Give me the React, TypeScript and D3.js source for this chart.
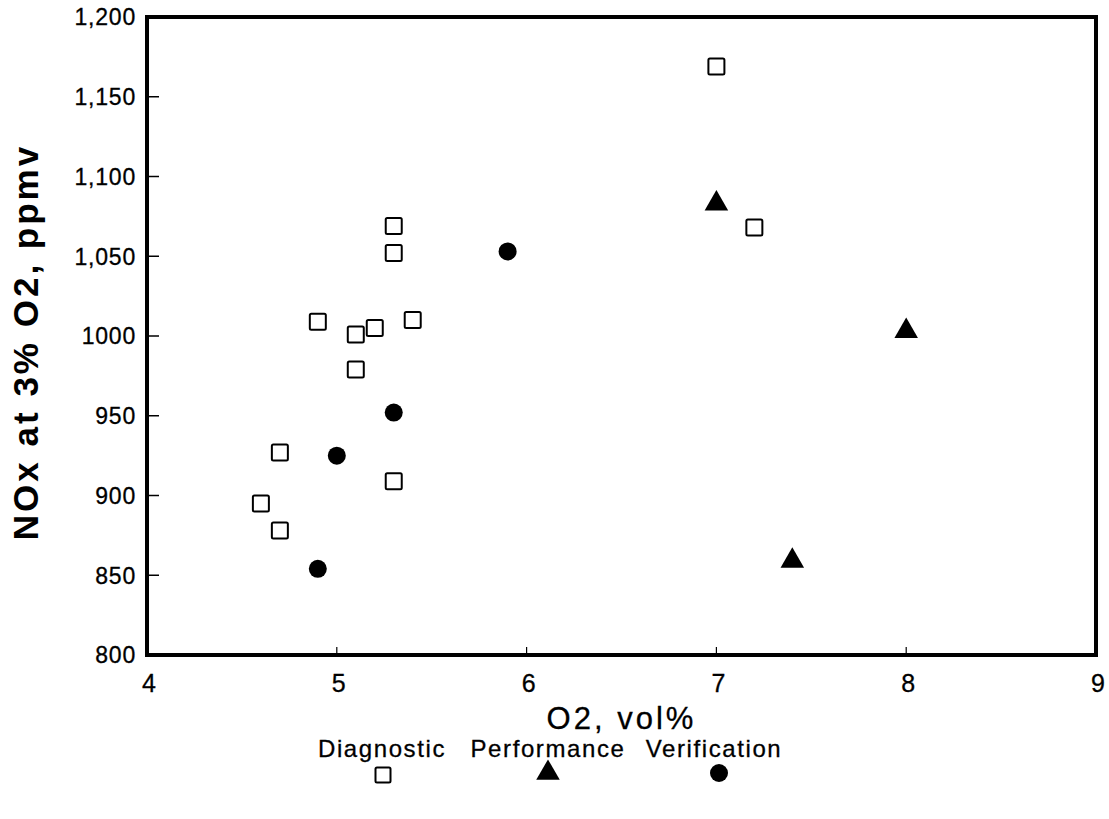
import React from "react";
import * as d3 from "d3";

const xTicks = [4, 5, 6, 7, 8, 9];
const yTicks = [800, 850, 900, 950, 1000, 1050, 1100, 1150, 1200];
const yTickLabels = ["800", "850", "900", "950", "1000", "1,050", "1,100", "1,150", "1,200"];

const diagnosticX = [7.0, 7.2, 5.3, 5.3, 4.9, 5.1, 5.2, 5.4, 5.1, 4.7, 4.6, 4.7, 5.3];
const diagnosticY = [1169, 1068, 1069, 1052, 1009, 1001, 1005, 1010, 979, 927, 895, 878, 909];

const performanceX = [7.0, 8.0, 7.4];
const performanceY = [1083, 1003, 859];

const verificationX = [5.9, 5.3, 5.0, 4.9];
const verificationY = [1053, 952, 925, 854];

const legendLabels = ["Diagnostic", "Performance", "Verification"];

const W = 1109;
const H = 819;
const M = { left: 147, right: 1096, top: 17, bottom: 655 };

export default function App() {
  const x = d3.scaleLinear().domain([4, 9]).range([M.left, M.right]);
  const y = d3.scaleLinear().domain([800, 1200]).range([M.bottom, M.top]);
  const font = "'Liberation Sans', Arial, Helvetica, sans-serif";

  const tri = d3.symbol().type(d3.symbolTriangle).size(240);
  const triPath = tri() as string;

  const sq = 16;
  const heavy = { stroke: "#000", strokeWidth: 0.3 };

  return (
    <svg
      width={W}
      height={H}
      style={{ position: "absolute", left: 0, top: 0, background: "#fff" }}
    >
      <rect x={0} y={0} width={W} height={H} fill="#fff" />
      {/* y ticks */}
      {yTicks.map((t, i) => (
        <g key={"yt" + t}>
          {i > 0 && i < yTicks.length - 1 && (
            <line x1={M.left} x2={M.left + 12} y1={y(t)} y2={y(t)} stroke="#000" strokeWidth={1.5} />
          )}
          <text
            x={136}
            y={y(t)}
            dy="0.36em"
            textAnchor="end"
            fontFamily={font}
            fontSize={23}
            letterSpacing={0.8}
            fill="#000"
            {...heavy}
          >
            {yTickLabels[i]}
          </text>
        </g>
      ))}
      {/* x ticks */}
      {xTicks.map((t, i) => (
        <g key={"xt" + t}>
          {i > 0 && i < xTicks.length - 1 && (
            <line x1={x(t)} x2={x(t)} y1={M.bottom} y2={M.bottom - 8} stroke="#000" strokeWidth={1.2} />
          )}
          <text
            x={x(t) + 2}
            y={692}
            textAnchor="middle"
            fontFamily={font}
            fontSize={25}
            fill="#000"
            {...heavy}
          >
            {t}
          </text>
        </g>
      ))}
      {/* frame */}
      <rect
        x={M.left}
        y={M.top}
        width={M.right - M.left}
        height={M.bottom - M.top}
        fill="none"
        stroke="#000"
        strokeWidth={4}
      />
      {/* diagnostic squares */}
      {diagnosticX.map((v, i) => (
        <rect
          key={"d" + i}
          x={x(v) - sq / 2}
          y={y(diagnosticY[i]) - sq / 2}
          width={sq}
          height={sq}
          rx={1.5}
          fill="#fff"
          stroke="#000"
          strokeWidth={2}
        />
      ))}
      {/* performance triangles */}
      {performanceX.map((v, i) => (
        <path
          key={"p" + i}
          d={triPath}
          transform={`translate(${x(v)},${y(performanceY[i])})`}
          fill="#000"
        />
      ))}
      {/* verification circles */}
      {verificationX.map((v, i) => (
        <circle key={"v" + i} cx={x(v)} cy={y(verificationY[i])} r={9} fill="#000" />
      ))}
      {/* axis titles */}
      <text
        x={(M.left + M.right) / 2}
        y={729}
        textAnchor="middle"
        fontFamily={font}
        fontSize={31}
        letterSpacing={3}
        fill="#000"
        {...heavy}
      >
        O2, vol%
      </text>
      <text
        transform={`translate(38,342) rotate(-90)`}
        textAnchor="middle"
        fontFamily={font}
        fontSize={35}
        fontWeight="bold"
        letterSpacing={3}
        fill="#000"
      >
        NOx at 3% O2, ppmv
      </text>
      {/* legend */}
      {legendLabels.map((l, i) => {
        const cx = [382, 548, 714][i];
        return (
          <text
            key={"lt" + i}
            x={cx}
            y={757}
            textAnchor="middle"
            fontFamily={font}
            fontSize={24}
            letterSpacing={1.6}
            fill="#000"
            {...heavy}
          >
            {l}
          </text>
        );
      })}
      <rect x={383 - 7.5} y={775 - 7.5} width={15} height={15} rx={1.5} fill="#fff" stroke="#000" strokeWidth={2} />
      <path d={triPath} transform="translate(548,773)" fill="#000" />
      <circle cx={719} cy={773} r={9} fill="#000" />
    </svg>
  );
}
